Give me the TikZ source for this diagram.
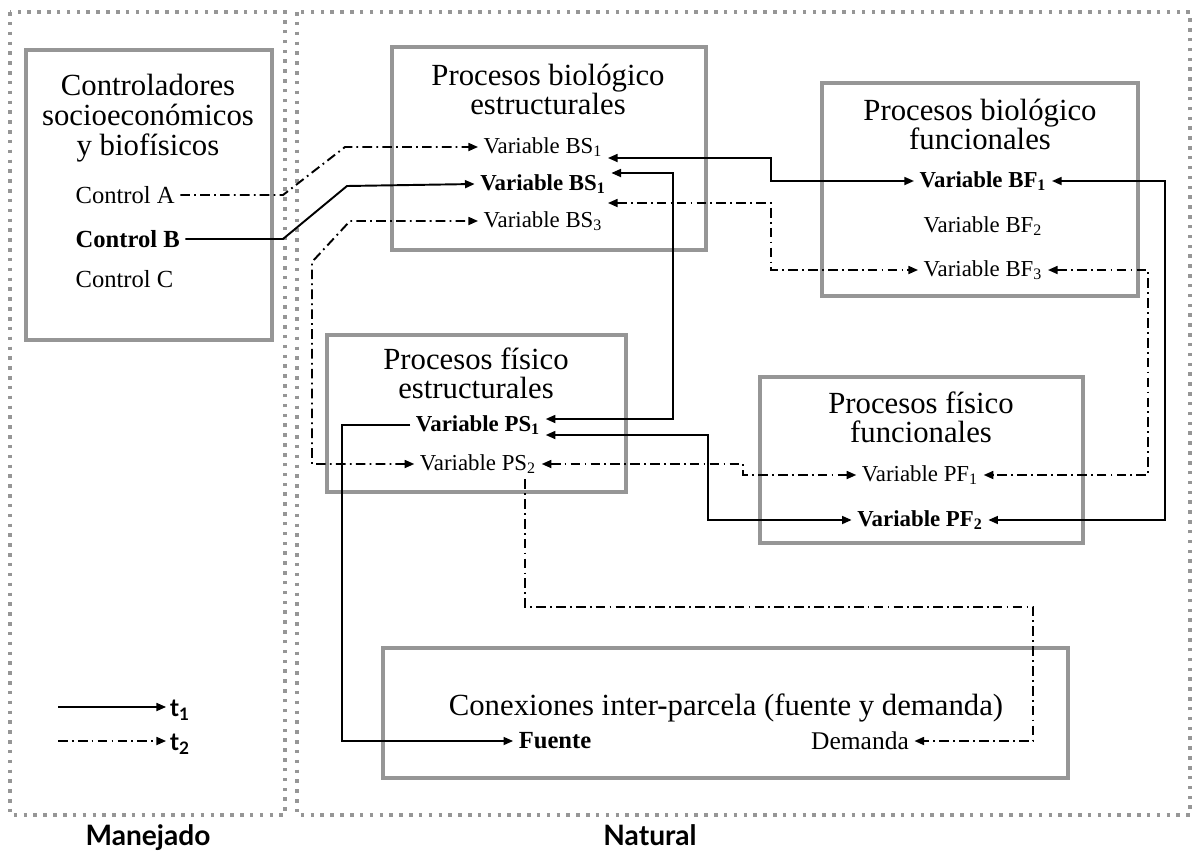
\documentclass[tikz,border=0pt]{standalone}
\usepackage{fontspec}
\setmainfont{Liberation Serif}
\newfontfamily\labfont{Lato}
\usetikzlibrary{positioning, arrows.meta, calc}

\definecolor{boxgray}{RGB}{150,150,150}

\tikzset{
  zone/.style={draw=boxgray, line width=2pt, dash pattern=on 2pt off 3.6pt},
  box/.style={draw=boxgray, line width=2.4pt},
  title/.style={align=center, font=\fontsize{17.5}{16.5}\selectfont},
  var/.style={inner sep=3pt, font=\fontsize{13}{13}\selectfont},
  varb/.style={var, font=\fontsize{13}{13}\selectfont\bfseries},
  ctl/.style={var, anchor=west, font=\fontsize{14}{14}\selectfont},
  zonelab/.style={anchor=base, font=\labfont\bfseries\fontsize{16}{16}\selectfont},
  tone/.style={line width=1.1pt},
  ttwo/.style={line width=1.1pt, dash pattern=on 5.5pt off 2.4pt on 1pt off 2.4pt}
}

\begin{document}
\begin{tikzpicture}[x=0.02cm, y=-0.02cm, >={Triangle[length=5.5pt, width=4.5pt]}]
\useasboundingbox (0,0) rectangle (1194,852);

% Zones
\draw[zone] (10,12) rectangle (285,815);
\draw[zone] (297,12) rectangle (1190,815);
\node[zonelab] (man) at (148,845) {Manejado};
\node[zonelab] (nat) at (650,845) {Natural};

% Boxes
\draw[box] (26,50) rectangle (272,340);
\draw[box] (392,47) rectangle (706,250);
\draw[box] (822,83) rectangle (1138,296);
\draw[box] (327,335) rectangle (626,492);
\draw[box] (760,377) rectangle (1083,543);
\draw[box] (383,648) rectangle (1068,778);

% Titles
\node[title, font=\fontsize{17.5}{17.2}\selectfont] (ctlt) at (148,118) {Controladores\\socioeconómicos\\y biofísicos};
\node[title] (bst) at (548,89) {Procesos biológico\\estructurales};
\node[title] (bft) at (980,124) {Procesos biológico\\funcionales};
\node[title] (pst) at (476,373) {Procesos físico\\estructurales};
\node[title] (pft) at (921,417) {Procesos físico\\funcionales};
\node[title] (cnt) at (726,708) {Conexiones inter-parcela (fuente y demanda)};

% Controls
\node[ctl] (ca) at (70,195) {Control A};
\node[ctl, font=\fontsize{14}{14}\selectfont\bfseries] (cb) at (70,239) {Control B};
\node[ctl] (cc) at (70,279) {Control C};

% Variables
\node[var] (bs1) at (543,147) {Variable BS\textsubscript{1}};
\node[varb] (bs2) at (543,184) {Variable BS\textsubscript{1}};
\node[var] (bs3) at (543,221) {Variable BS\textsubscript{3}};
\node[varb] (bf1) at (983,181) {Variable BF\textsubscript{1}};
\node[var] (bf2) at (983,226) {Variable BF\textsubscript{2}};
\node[var] (bf3) at (983,270) {Variable BF\textsubscript{3}};
\node[varb] (ps1) at (478,425) {Variable PS\textsubscript{1}};
\node[var] (ps2) at (478,464) {Variable PS\textsubscript{2}};
\node[var] (pf1) at (920,475) {Variable PF\textsubscript{1}};
\node[varb] (pf2) at (920,520) {Variable PF\textsubscript{2}};
\node[varb, font=\fontsize{14}{14}\selectfont\bfseries] (fue) at (555,741) {Fuente};
\node[var, font=\fontsize{14.5}{14.5}\selectfont] (dem) at (860,741) {Demanda};

% Legend
\node[font=\labfont\bfseries\fontsize{14}{14}\selectfont, inner sep=2pt] (t1) at (180,710) {t\textsubscript{1}};
\node[font=\labfont\bfseries\fontsize{14}{14}\selectfont, inner sep=2pt] (t2) at (180,744) {t\textsubscript{2}};
\coordinate (l1) at (58,707);
\coordinate (l2) at (58,741);
\draw[tone,->] (l1) -- (l1 -| t1.west);
\draw[ttwo,->] (l2) -- (l2 -| t2.west);

% Connectors t1
\draw[tone,->] (cb.east) -- (283,239) -- (347,186) -- (bs2.west);
\draw[tone,<->] ($(bs1.east)+(0,11)$) -| (771,181) -- (bf1.west);
\draw[tone,<->] ($(bs2.east)+(0,-11)$) -| (673,419) -- ($(ps1.east)+(0,-6)$);
\draw[tone,<->] (bf1.east) -| (1165,520) -- (pf2.east);
\draw[tone,<->] ($(ps1.east)+(0,10)$) -| (708,520) -- (pf2.west);
\draw[tone,->] (ps1.west) -| (342,741) -- (fue.west);

% Connectors t2
\draw[ttwo,->] (ca.east) -- (283,195) -- (345,147) -- (bs1.west);
\draw[ttwo,<->] (ps2.west) -| (312,262) -- (350,221) -- (bs3.west);
\draw[ttwo,<->] ($(bs3.east)+(0,-18)$) -| (771,270) -- (bf3.west);
\draw[ttwo,<->] (bf3.east) -| (1148,475) -- (pf1.east);
\draw[ttwo,<->] (ps2.east) -| (743,475) -- (pf1.west);
\draw[ttwo,->] ($(ps2.south)+(47,0)$) |- (1033,607) |- (dem.east);

\end{tikzpicture}
\end{document}
